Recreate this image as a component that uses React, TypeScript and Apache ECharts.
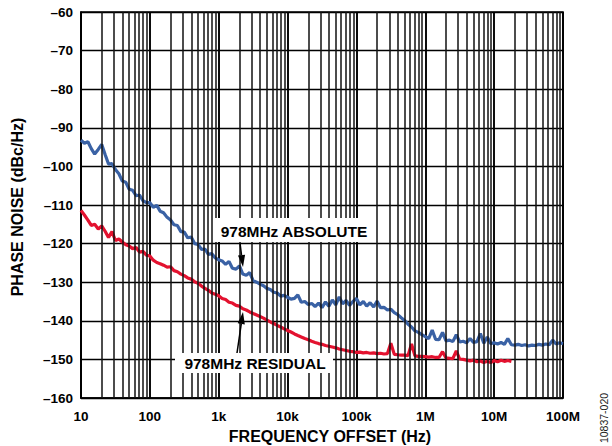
import { useEffect, useRef } from "react";
import * as echarts from "echarts";

// Frequency offsets (Hz), 20 points per decade
const FREQ_HZ = [
  10, 11.2, 12.6, 14.1, 15.8, 17.8, 20, 22.4, 25.1, 28.2, 31.6, 35.5, 39.8, 44.7, 50.1, 56.2, 63.1, 70.8, 79.4, 89.1,
  100, 112, 126, 141, 158, 178, 200, 224, 251, 282, 316, 355, 398, 447, 501, 562, 631, 708, 794, 891,
  1e3, 1.12e3, 1.26e3, 1.41e3, 1.58e3, 1.78e3, 2e3, 2.24e3, 2.51e3, 2.82e3, 3.16e3, 3.55e3, 3.98e3, 4.47e3, 5.01e3, 5.62e3, 6.31e3, 7.08e3, 7.94e3, 8.91e3,
  1e4, 1.12e4, 1.26e4, 1.41e4, 1.58e4, 1.78e4, 2e4, 2.24e4, 2.51e4, 2.82e4, 3.16e4, 3.55e4, 3.98e4, 4.47e4, 5.01e4, 5.62e4, 6.31e4, 7.08e4, 7.94e4, 8.91e4,
  1e5, 1.12e5, 1.26e5, 1.41e5, 1.58e5, 1.78e5, 2e5, 2.24e5, 2.51e5, 2.82e5, 3.16e5, 3.55e5, 3.98e5, 4.47e5, 5.01e5, 5.62e5, 6.31e5, 7.08e5, 7.94e5, 8.91e5,
  1e6, 1.12e6, 1.26e6, 1.41e6, 1.58e6, 1.78e6, 2e6, 2.24e6, 2.51e6, 2.82e6, 3.16e6, 3.55e6, 3.98e6, 4.47e6, 5.01e6, 5.62e6, 6.31e6, 7.08e6, 7.94e6, 8.91e6,
  1e7, 1.12e7, 1.26e7, 1.41e7, 1.58e7, 1.78e7, 2e7, 2.24e7, 2.51e7, 2.82e7, 3.16e7, 3.55e7, 3.98e7, 4.47e7, 5.01e7, 5.62e7, 6.31e7, 7.08e7, 7.94e7, 8.91e7,
  1e8,
];

// 978MHz ABSOLUTE phase noise (dBc/Hz)
const ABSOLUTE_DBC = [
  -93.2, -94.0, -93.6, -95.4, -96.8, -95.6, -94.3, -96.9, -99.4, -99.3, -100.8, -101.9, -103.8, -104.1, -105.9, -106.2, -107.6, -107.4, -108.9, -109.4,
  -109.4, -110.6, -110.1, -111.6, -112.0, -113.2, -113.9, -115.1, -115.3, -116.9, -117.0, -118.5, -118.3, -120.0, -120.2, -121.5, -121.4, -122.8, -122.6, -123.7,
  -124.2, -124.5, -125.4, -124.6, -126.4, -126.6, -125.8, -127.9, -128.2, -127.5, -129.6, -130.0, -130.5, -130.9, -131.6, -131.9, -132.6, -132.8, -133.6, -133.4,
  -133.9, -134.4, -134.2, -133.3, -135.2, -135.0, -135.8, -135.5, -136.3, -135.4, -136.6, -135.1, -136.2, -134.6, -135.9, -133.8, -135.6, -134.7, -136.0, -135.0,
  -134.2, -135.9, -135.0, -136.2, -135.3, -136.4, -134.9, -136.6, -136.5, -137.2, -137.0, -137.9, -138.4, -139.2, -139.9, -140.9, -141.6, -142.6, -143.0, -143.6,
  -144.1, -144.6, -142.4, -144.8, -144.9, -143.0, -145.2, -145.0, -145.4, -143.6, -145.5, -145.3, -145.7, -144.6, -145.6, -145.4, -143.3, -145.8, -144.2, -145.9,
  -145.7, -146.0, -145.6, -146.1, -144.6, -146.2, -146.3, -146.1, -146.4, -146.2, -146.5, -146.3, -146.4, -146.1, -146.3, -146.0, -146.2, -145.0, -146.0, -145.7,
  -145.9,
];

// 978MHz RESIDUAL phase noise (dBc/Hz), ends near 18 MHz
const RESIDUAL_DBC = [
  -111.4, -112.6, -113.9, -115.3, -115.0, -116.2, -115.4, -116.8, -118.4, -116.9, -119.2, -118.8, -119.6, -120.3, -120.6, -121.3, -121.0, -122.2, -122.0, -123.0,
  -123.2, -124.3, -124.9, -125.2, -125.6, -126.1, -126.0, -127.0, -127.3, -127.9, -128.3, -128.9, -129.2, -129.9, -130.3, -131.0, -131.6, -132.1, -132.8, -133.1,
  -133.5, -134.2, -134.5, -135.2, -135.4, -136.0, -136.2, -136.9, -137.2, -137.7, -138.1, -138.5, -138.9, -139.3, -139.8, -140.3, -140.7, -141.2, -141.6, -142.1,
  -142.5, -142.9, -143.4, -143.8, -144.2, -144.6, -144.9, -145.3, -145.6, -145.9, -146.1, -146.4, -146.6, -146.8, -147.0, -147.3, -147.5, -147.7, -147.9, -148.0,
  -148.2, -148.1, -148.3, -148.2, -148.4, -148.3, -148.5, -148.4, -148.6, -148.5, -145.8, -148.7, -148.8, -148.9, -148.9, -149.0, -146.0, -149.1, -149.2, -149.2,
  -149.3, -149.4, -149.3, -149.5, -149.5, -148.0, -149.6, -149.7, -149.8, -147.8, -149.9, -150.0, -150.2, -150.4, -150.2, -150.6, -150.4, -150.8, -150.5, -150.8,
  -150.3, -150.6, -150.2, -150.5, -150.3, -150.5,
];

// Minor vertical grid lines (2..9 x each decade)
const MINOR_GRID_HZ = [
  20, 30, 40, 50, 60, 70, 80, 90,
  200, 300, 400, 500, 600, 700, 800, 900,
  2e3, 3e3, 4e3, 5e3, 6e3, 7e3, 8e3, 9e3,
  2e4, 3e4, 4e4, 5e4, 6e4, 7e4, 8e4, 9e4,
  2e5, 3e5, 4e5, 5e5, 6e5, 7e5, 8e5, 9e5,
  2e6, 3e6, 4e6, 5e6, 6e6, 7e6, 8e6, 9e6,
  2e7, 3e7, 4e7, 5e7, 6e7, 7e7, 8e7, 9e7,
];

const X_TICK_LABELS = ["10", "100", "1k", "10k", "100k", "1M", "10M", "100M"];
const Y_MIN = -160;
const Y_MAX = -60;
const Y_STEP = 10;

const FONT = '"Liberation Sans", Arial, Helvetica, sans-serif';

export default function App() {
  const ref = useRef<HTMLDivElement>(null);

  useEffect(() => {
    if (!ref.current) return;
    const chart = echarts.init(ref.current, undefined, { renderer: "svg" });

    const absData = FREQ_HZ.map((f, i) => [f, ABSOLUTE_DBC[i]]);
    const resData = RESIDUAL_DBC.map((v, i) => [FREQ_HZ[i], v]);

    const arrowHead = (tip: number[], tail: number[], len: number, half: number) => {
      const dx = tip[0] - tail[0];
      const dy = tip[1] - tail[1];
      const d = Math.hypot(dx, dy);
      const ux = dx / d;
      const uy = dy / d;
      const bx = tip[0] - ux * len;
      const by = tip[1] - uy * len;
      return {
        base: [bx, by],
        pts: [
          [tip[0], tip[1]],
          [bx - uy * half, by + ux * half],
          [bx + uy * half, by - ux * half],
        ],
      };
    };

    const absTail = [240, 243];
    const absTip = [243, 267];
    const resTail = [237, 353];
    const resTip = [243, 312];
    const absHead = arrowHead(absTip, absTail, 12, 3.6);
    const resHead = arrowHead(resTip, resTail, 12, 3.6);

    chart.setOption({
      animation: false,
      backgroundColor: "#fff",
      grid: {
        left: 81,
        right: 49,
        top: 12,
        bottom: 48,
        show: true,
        borderColor: "#000",
        borderWidth: 1.6,
        backgroundColor: "transparent",
      },
      xAxis: {
        type: "log",
        logBase: 10,
        min: 10,
        max: 1e8,
        splitNumber: 7,
        axisLine: { show: true, lineStyle: { color: "#000", width: 1.6 } },
        axisTick: { show: false },
        minorTick: { show: false },
        splitLine: { show: true, lineStyle: { color: "#000", width: 1.9 } },
        axisLabel: {
          color: "#000",
          fontFamily: FONT,
          fontWeight: "bold",
          fontSize: 13.5,
          margin: 11,
          formatter: (v: number) => {
            const idx = Math.round(Math.log10(v)) - 1;
            return X_TICK_LABELS[idx] ?? "";
          },
        },
      },
      yAxis: {
        type: "value",
        min: Y_MIN,
        max: Y_MAX,
        interval: Y_STEP,
        axisLine: { show: true, lineStyle: { color: "#000", width: 1.6 } },
        axisTick: { show: false },
        splitLine: { show: true, lineStyle: { color: "#000", width: 1.4 } },
        axisLabel: {
          color: "#000",
          fontFamily: FONT,
          fontWeight: "bold",
          fontSize: 13.5,
          margin: 8,
          formatter: (v: number) => (v < 0 ? "\u2013" + Math.abs(v) : String(v)),
        },
      },
      series: [
        {
          type: "line",
          data: [],
          z: 1,
          silent: true,
          markLine: {
            silent: true,
            symbol: ["none", "none"],
            label: { show: false },
            lineStyle: { color: "#111", width: 1.5, type: "solid" },
            emphasis: { disabled: true },
            data: MINOR_GRID_HZ.map((v) => ({ xAxis: v })),
          },
        },
        {
          name: "978MHz ABSOLUTE",
          type: "line",
          data: absData,
          showSymbol: false,
          symbol: "none",
          z: 3,
          lineStyle: { color: "#3a62a5", width: 3.2 },
        },
        {
          name: "978MHz RESIDUAL",
          type: "line",
          data: resData,
          showSymbol: false,
          symbol: "none",
          z: 3,
          lineStyle: { color: "#e3122f", width: 3.2 },
        },
      ],
      graphic: [
        // label boxes
        { type: "rect", z: 100, shape: { x: 213, y: 218, width: 163, height: 24 }, style: { fill: "#fff" } },
        {
          type: "text", z: 101, x: 294, y: 231,
          style: { text: "978MHz ABSOLUTE", font: `bold 15.5px ${FONT}`, fill: "#000", align: "center", verticalAlign: "middle" },
        },
        { type: "rect", z: 100, shape: { x: 175, y: 353, width: 158, height: 20 }, style: { fill: "#fff" } },
        {
          type: "text", z: 101, x: 255, y: 363,
          style: { text: "978MHz RESIDUAL", font: `bold 15.5px ${FONT}`, fill: "#000", align: "center", verticalAlign: "middle" },
        },
        // arrows
        {
          type: "line", z: 102,
          shape: { x1: absTail[0], y1: absTail[1], x2: absHead.base[0], y2: absHead.base[1] },
          style: { stroke: "#000", lineWidth: 1.5 },
        },
        { type: "polygon", z: 102, shape: { points: absHead.pts }, style: { fill: "#000" } },
        {
          type: "line", z: 102,
          shape: { x1: resTail[0], y1: resTail[1], x2: resHead.base[0], y2: resHead.base[1] },
          style: { stroke: "#000", lineWidth: 1.5 },
        },
        { type: "polygon", z: 102, shape: { points: resHead.pts }, style: { fill: "#000" } },
        // axis titles
        {
          type: "text", z: 101, x: 330, y: 436,
          style: { text: "FREQUENCY OFFSET (Hz)", font: `bold 16px ${FONT}`, fill: "#000", align: "center", verticalAlign: "middle" },
        },
        {
          type: "text", z: 101, x: 17.5, y: 207, rotation: Math.PI / 2,
          style: { text: "PHASE NOISE (dBc/Hz)", font: `bold 16px ${FONT}`, fill: "#000", align: "center", verticalAlign: "middle" },
        },
        {
          type: "text", z: 101, x: 604, y: 418, rotation: Math.PI / 2,
          style: { text: "10837-020", font: `10.5px ${FONT}`, fill: "#222", align: "center", verticalAlign: "middle" },
        },
      ],
    });

    return () => chart.dispose();
  }, []);

  return <div ref={ref} style={{ width: 612, height: 446, position: "absolute", left: 0, top: 0 }} />;
}
